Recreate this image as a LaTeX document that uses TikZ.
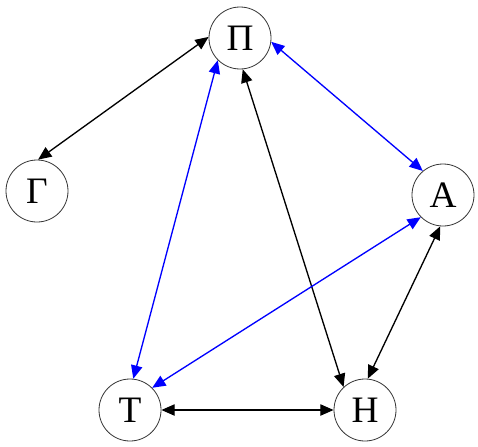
\documentclass[tikz,border=0pt]{standalone}
\usepackage{fontspec}
\setmainfont{Liberation Serif}
\usepackage{tikz}
\usetikzlibrary{arrows.meta}

\begin{document}
\begin{tikzpicture}[
  x=0.75pt, y=-0.75pt,
  font=\fontsize{28}{30}\selectfont,
  state/.style={circle, draw=black!80, line width=0.6pt, minimum size=46.5pt, inner sep=0pt},
  arr/.style={{Triangle[length=10pt,width=8.5pt]}-{Triangle[length=10pt,width=8.5pt]}, line width=1pt, black},
  barr/.style={arr, blue}
]
\useasboundingbox (0,0) rectangle (478,446);
\node[state] (pi) at (240,38) {Π};
\node[state] (ga) at (37,191) {Γ};
\node[state] (al) at (443,195) {Α};
\node[state] (ta) at (130,410) {Τ};
\node[state] (et) at (365,410) {Η};
% edges leave the circles off-centre
\draw[arr] (pi.178)--(ga.88);
\draw[barr] (pi.353)--(al.130);
\draw[barr] (pi.225)--(ta.84);
\draw[arr] (pi.275)--(et.133);
\draw[barr] (al.225)--(ta.45);
\draw[arr] (al.265)--(et.85);
\draw[arr] (ta)--(et);
\end{tikzpicture}
\end{document}
